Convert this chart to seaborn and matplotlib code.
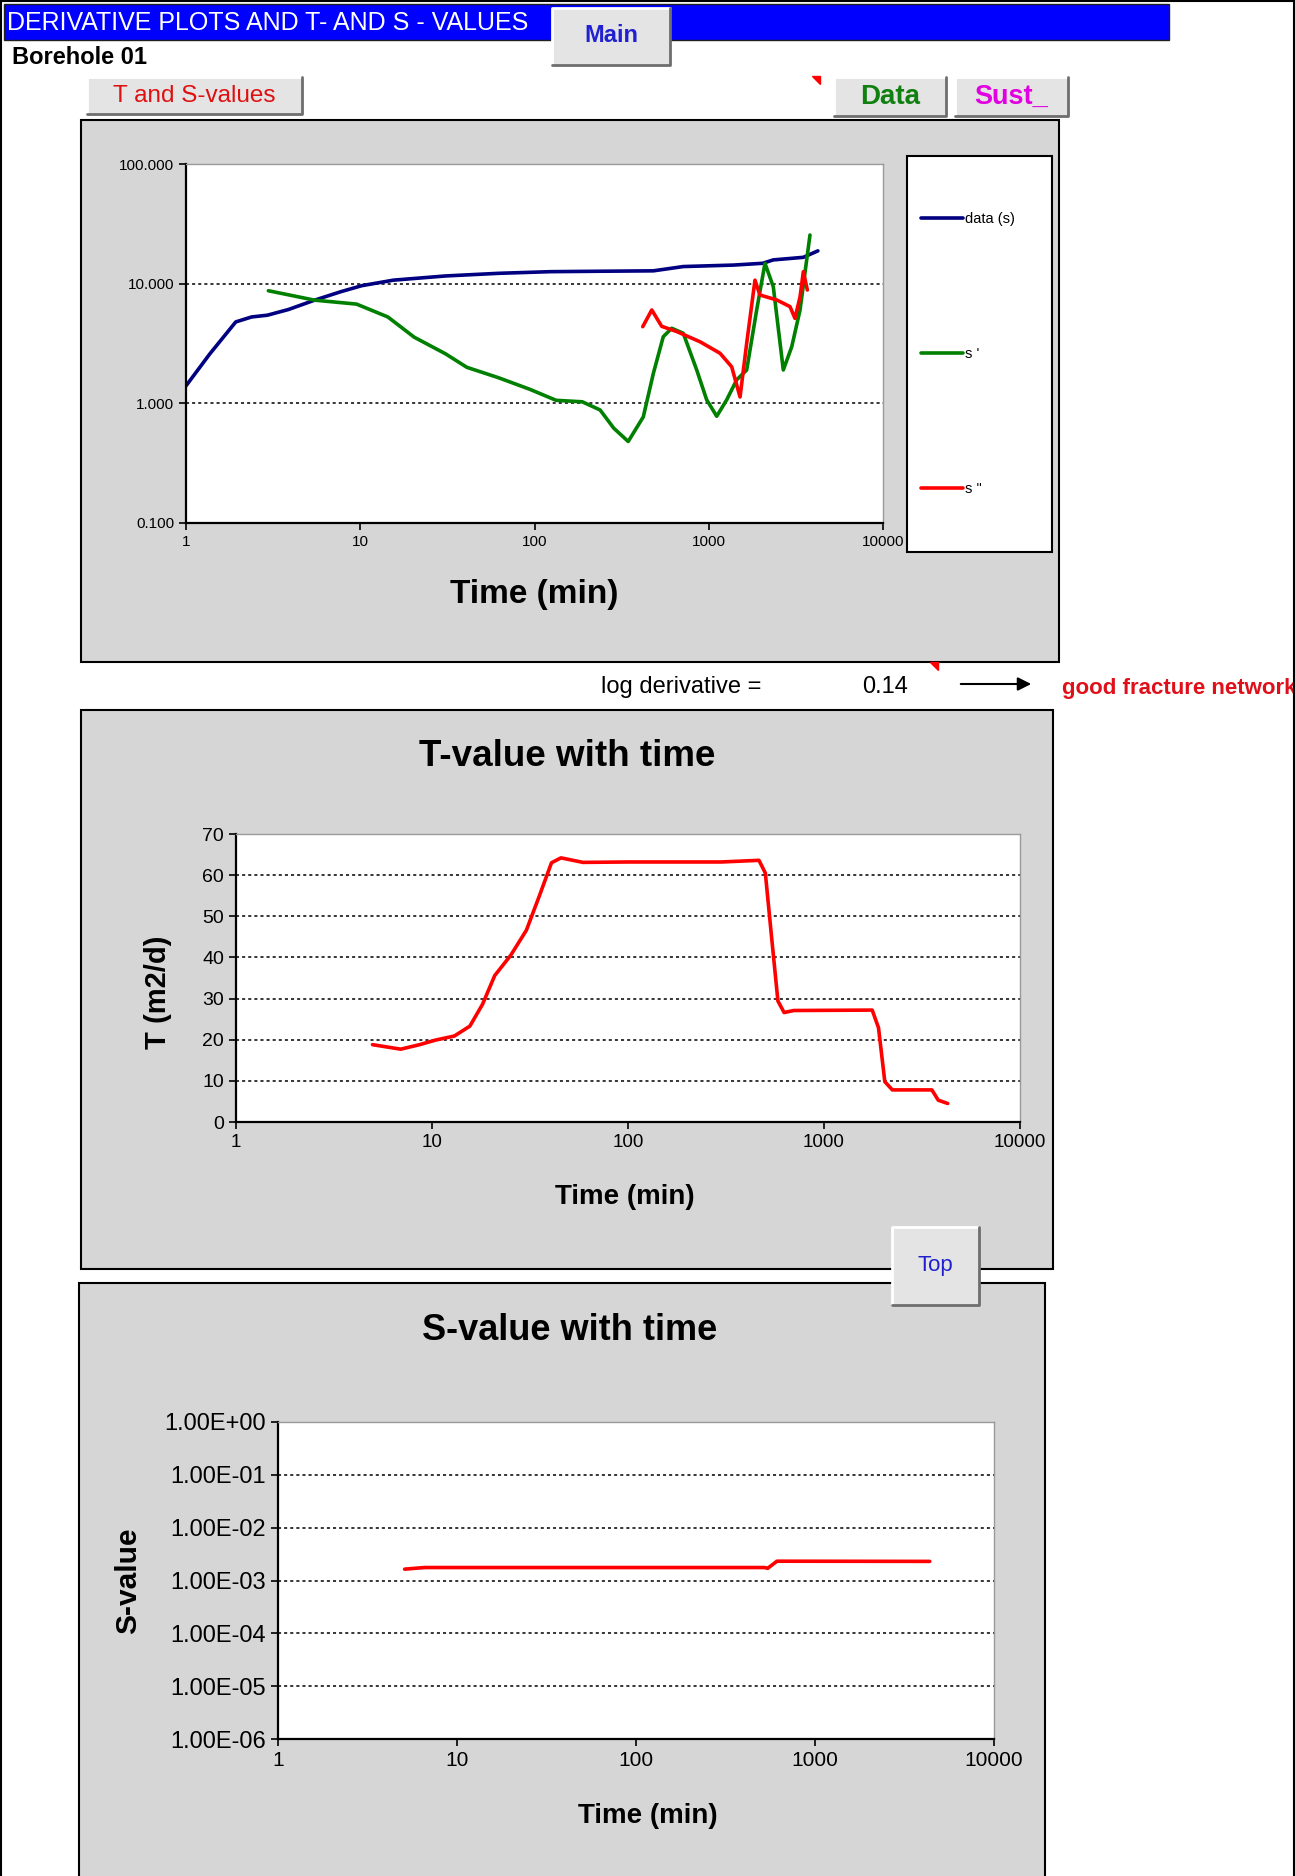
import matplotlib
matplotlib.use("Agg")
import matplotlib.pyplot as plt
from matplotlib.patches import Rectangle, Polygon, FancyArrowPatch
from matplotlib.lines import Line2D
import seaborn as sns

# ---- data ----
# derivative plot (log-log)
data_t = [1.0, 1.37, 1.93, 2.38, 2.93, 3.87, 5.47, 7.74, 10.2, 15.5, 30.9, 61.9, 124,
          238, 481, 714, 1387, 2039, 2346, 3490, 4229]
data_s = [1.40, 2.59, 4.79, 5.27, 5.45, 6.08, 7.28, 8.57, 9.62, 10.7, 11.6, 12.2, 12.6,
          12.7, 12.8, 13.9, 14.3, 14.8, 15.8, 16.6, 18.8]

d1_t = [2.97, 5.47, 9.52, 14.4, 20.4, 30.9, 40.9, 61.9, 94, 133, 188, 238, 285, 345, 421,
        481, 548, 613, 714, 853, 973, 1111, 1268, 1446, 1651, 1884, 2102, 2346, 2678, 2994,
        3342, 3810]
d1_s = [8.73, 7.28, 6.75, 5.27, 3.57, 2.59, 2.0, 1.64, 1.31, 1.06, 1.03, 0.88, 0.62, 0.48, 0.77,
        1.78, 3.6, 4.24, 3.85, 1.9, 1.07, 0.78, 1.07, 1.57, 1.9, 6.03, 14.8, 9.44, 1.9, 2.97,
        6.03, 25.5]

d2_t = [418, 471, 537, 655, 891, 1161, 1354, 1512, 1651, 1842, 1967, 2455, 2926, 3124, 3342,
        3490, 3680]
d2_s = [4.37, 6.03, 4.4, 3.98, 3.27, 2.62, 2.02, 1.13, 3.18, 10.7, 8.04, 7.31, 6.43, 5.13, 7.78,
        12.6, 8.85]

# T-value with time
tval_t = [4.97, 6.92, 8.65, 10.4, 13.0, 15.6, 18.1, 20.9, 25.2, 30.3, 35.2, 40.7, 45.5, 58.9,
          100, 299, 466, 502, 540, 582, 626, 700, 1762, 1897, 2043, 2232, 3551, 3828, 4278]
tval_T = [18.8, 17.7, 18.8, 19.9, 20.9, 23.3, 28.6, 35.6, 40.5, 46.6, 54.8, 63.0, 64.2, 63.1,
          63.2, 63.2, 63.6, 60.5, 45.0, 29.4, 26.6, 27.1, 27.2, 22.9, 9.8, 7.8, 7.8, 5.3, 4.5]

# S-value with time
sval_t = [5.1, 6.6, 522, 544, 613, 4375]
sval_S = [1.64e-3, 1.76e-3, 1.76e-3, 1.70e-3, 2.32e-3, 2.30e-3]

log_ticks = [1, 10, 100, 1000, 10000]
log_labels = ["1", "10", "100", "1000", "10000"]

W, H = 1295, 1876
NARROW = ["Liberation Sans Narrow", "Liberation Sans", "DejaVu Sans"]
GRANITE = "#d6d6d6"

sns.set_theme(style="white")
plt.rcParams["font.family"] = ["Liberation Sans", "DejaVu Sans"]
plt.rcParams["text.color"] = "black"
plt.rcParams["axes.labelcolor"] = "black"
plt.rcParams["xtick.color"] = "black"
plt.rcParams["ytick.color"] = "black"

fig = plt.figure(figsize=(W / 100, H / 100), dpi=100)
fig.patch.set_facecolor("white")


def fbox(x0, y0, x1, y1):
    return [x0 / W, 1 - y1 / H, (x1 - x0) / W, (y1 - y0) / H]


def frect(x0, y0, x1, y1, **kw):
    r = Rectangle((x0 / W, 1 - y1 / H), (x1 - x0) / W, (y1 - y0) / H,
                  transform=fig.transFigure, **kw)
    fig.add_artist(r)
    return r


def ftext(x, y, s, **kw):
    return fig.text(x / W, 1 - y / H, s, **kw)


def fline(xs, ys, **kw):
    fig.add_artist(Line2D([x / W for x in xs], [1 - y / H for y in ys],
                          transform=fig.transFigure, **kw))


def button(x0, y0, x1, y1, label, color, size, weight="normal", family=NARROW, ty=None):
    frect(x0, y0, x1, y1, facecolor="#e4e4e4", edgecolor="none", zorder=6)
    fline([x0, x0, x1], [y1, y0, y0], color="white", lw=2, zorder=7)
    fline([x0, x1, x1], [y1, y1, y0], color="#6e6e6e", lw=2, zorder=7)
    ftext((x0 + x1) / 2, ty if ty else (y0 + y1) / 2, label, color=color, fontsize=size,
          fontweight=weight, family=family, ha="center", va="center", zorder=8)


def style_axes(ax):
    ax.set_facecolor("white")
    for s in ["top", "right"]:
        ax.spines[s].set_color("#9a9a9a")
        ax.spines[s].set_linewidth(1)
    for s in ["left", "bottom"]:
        ax.spines[s].set_color("black")
        ax.spines[s].set_linewidth(1.6)
    ax.tick_params(axis="both", which="major", direction="out", length=5, width=1.2,
                   color="black", labelcolor="black", left=True, bottom=True)
    ax.tick_params(axis="both", which="minor", length=0)


# page frame, header, buttons
frect(1, 1, W - 1, H + 5, facecolor="none", edgecolor="black", lw=1.5, zorder=9)
frect(4, 4, 1169, 40, facecolor="#0000ff", edgecolor="#202020", lw=1, zorder=5)
ftext(7, 23, "DERIVATIVE PLOTS AND T- AND S - VALUES", color="white", fontsize=18,
      family=NARROW, ha="left", va="center", zorder=6)
ftext(12, 57, "Borehole 01", color="black", fontsize=17, fontweight="bold",
      ha="left", va="center")
button(552, 8, 670, 65, "Main", "#2020d0", 17, weight="bold", ty=36)
button(87, 77, 302, 114, "T and S-values", "#e01010", 17.5)
button(834, 77, 946, 116, "Data", "#108010", 20, weight="bold", family=["Liberation Sans"])
button(955, 77, 1068, 116, "Sust_", "#e000e0", 19.5, weight="bold", family=["Liberation Sans"])
button(892, 1227, 979, 1305, "Top", "#2020d0", 16, ty=1266)
fig.add_artist(Polygon([(812 / W, 1 - 76 / H), (820 / W, 1 - 76 / H), (820 / W, 1 - 84 / H)],
                       closed=True, transform=fig.transFigure, color="red", zorder=8))
fig.add_artist(Polygon([(930 / W, 1 - 662 / H), (938 / W, 1 - 662 / H), (938 / W, 1 - 670 / H)],
                       closed=True, transform=fig.transFigure, color="red", zorder=8))

# chart backgrounds
frect(81, 120, 1059, 662, facecolor=GRANITE, edgecolor="black", lw=1.5, zorder=-2)
frect(81, 710, 1053, 1269, facecolor=GRANITE, edgecolor="black", lw=1.5, zorder=-2)
frect(79, 1283, 1045, 1880, facecolor=GRANITE, edgecolor="black", lw=1.5, zorder=-2)

# ---- chart 1: derivative plot ----
ax1 = fig.add_axes(fbox(186, 164, 883, 523))
sns.lineplot(x=data_t, y=data_s, ax=ax1, color="#000080", linewidth=2.6, estimator=None)
sns.lineplot(x=d1_t, y=d1_s, ax=ax1, color="#008000", linewidth=2.6, estimator=None)
sns.lineplot(x=d2_t, y=d2_s, ax=ax1, color="#ff0000", linewidth=2.6, estimator=None)
ax1.set_xscale("log")
ax1.set_yscale("log")
ax1.set_xlim(1, 10000)
ax1.set_ylim(0.1, 100)
style_axes(ax1)
ax1.set_xticks(log_ticks)
ax1.set_xticklabels(log_labels, family=NARROW, fontsize=11)
ax1.set_yticks([0.1, 1, 10, 100])
ax1.set_yticklabels(["0.100", "1.000", "10.000", "100.000"], family=NARROW, fontsize=11)
for yv in [1, 10]:
    ax1.axhline(yv, color="black", lw=1.1, ls=(0, (2, 2)), zorder=0.5)
ax1.set_xlabel("Time (min)", fontsize=24, fontweight="bold")
ax1.xaxis.set_label_coords(0.499, -0.2)
ax1.xaxis.label.set_va("center")
ax1.set_ylabel("")

frect(907, 156, 1052, 552, facecolor="white", edgecolor="black", lw=1.5, zorder=4)
handles = ax1.get_lines()[:3]
leg = fig.legend(handles, ["data (s)", "s '", 's "'], loc="upper left",
                 bbox_to_anchor=(921 / W, 1 - 212 / H), bbox_transform=fig.transFigure,
                 frameon=False, fontsize=10.5, handlelength=2.9, handletextpad=0.1,
                 labelspacing=8.3, borderpad=0, borderaxespad=0)
leg.set_zorder(5)

ftext(601, 687, "log derivative =", fontsize=17, family=NARROW, ha="left", va="center")
ftext(862, 687, "0.14", fontsize=17, family=NARROW, ha="left", va="center")
fig.add_artist(FancyArrowPatch((958 / W, 1 - 684 / H), (1034 / W, 1 - 684 / H),
                               transform=fig.transFigure, arrowstyle="-|>",
                               mutation_scale=20, color="black", lw=1.5))
ftext(1062, 688, "good fracture network", fontsize=16, fontweight="bold", color="#e0101a",
      family=NARROW, ha="left", va="center")

# ---- chart 2: T-value with time ----
ax2 = fig.add_axes(fbox(236, 834, 1020, 1122))
sns.lineplot(x=tval_t, y=tval_T, ax=ax2, color="#ff0000", linewidth=2.6, estimator=None)
ax2.set_xscale("log")
ax2.set_xlim(1, 10000)
ax2.set_ylim(0, 70)
style_axes(ax2)
ax2.set_xticks(log_ticks)
ax2.set_xticklabels(log_labels, fontsize=13.5)
ax2.set_yticks(range(0, 80, 10))
ax2.set_yticklabels([str(v) for v in range(0, 80, 10)], fontsize=14)
for yv in range(10, 70, 10):
    ax2.axhline(yv, color="black", lw=1.1, ls=(0, (2, 2)), zorder=0.5)
ax2.set_xlabel("Time (min)", fontsize=20, fontweight="bold")
ax2.xaxis.set_label_coords(0.496, -0.26)
ax2.xaxis.label.set_va("center")
ax2.set_ylabel("T (m2/d)", fontsize=21, fontweight="bold")
ax2.yaxis.set_label_coords(-0.1, 0.45)
ax2.yaxis.label.set_va("center")
ftext(567, 757, "T-value with time", fontsize=26.5, fontweight="bold", ha="center", va="center")

# ---- chart 3: S-value with time ----
ax3 = fig.add_axes(fbox(278, 1422, 994, 1739))
sns.lineplot(x=sval_t, y=sval_S, ax=ax3, color="#ff0000", linewidth=2.6, estimator=None)
ax3.set_xscale("log")
ax3.set_yscale("log")
ax3.set_xlim(1, 10000)
ax3.set_ylim(1e-6, 1)
style_axes(ax3)
ax3.set_xticks(log_ticks)
ax3.set_xticklabels(log_labels, fontsize=15)
s_ticks = [1e-6, 1e-5, 1e-4, 1e-3, 1e-2, 1e-1, 1]
ax3.set_yticks(s_ticks)
ax3.set_yticklabels(["1.00E-06", "1.00E-05", "1.00E-04", "1.00E-03", "1.00E-02",
                     "1.00E-01", "1.00E+00"], fontsize=17)
for yv in s_ticks[1:-1]:
    ax3.axhline(yv, color="black", lw=1.1, ls=(0, (2, 2)), zorder=0.5)
ax3.set_xlabel("Time (min)", fontsize=20, fontweight="bold")
ax3.xaxis.set_label_coords(0.517, -0.243)
ax3.xaxis.label.set_va("center")
ax3.set_ylabel("S-value", fontsize=21.5, fontweight="bold")
ax3.yaxis.set_label_coords(-0.21, 0.5)
ax3.yaxis.label.set_va("center")
ftext(570, 1331, "S-value with time", fontsize=26, fontweight="bold", ha="center", va="center")

fig.savefig("out.png", dpi=100)
